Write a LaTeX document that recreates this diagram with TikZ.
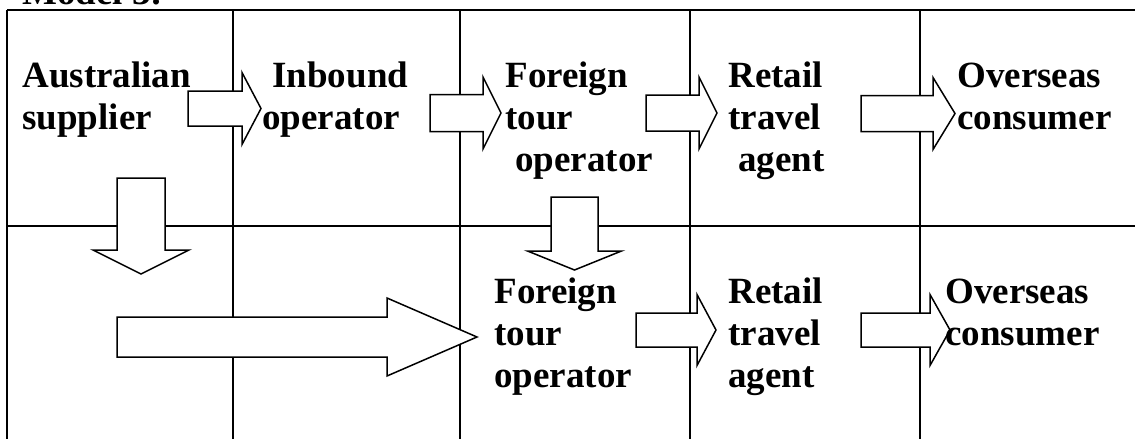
\documentclass[tikz,border=0pt]{standalone}
\usepackage{fontspec}
\setmainfont{Liberation Serif}
\usetikzlibrary{calc}

% horizontal block arrow: from, to, half shaft, half head, head length
\newcommand{\harrow}[5]{%
    \draw[barrow] let \p1=(#1), \p2=(#2) in
        (\x1,\y1+#3) -- (\x2-#5,\y1+#3) -- (\x2-#5,\y1+#4) -- (\x2,\y1)
        -- (\x2-#5,\y1-#4) -- (\x2-#5,\y1-#3) -- (\x1,\y1-#3) -- cycle;}
% downward block arrow: from, to, half shaft, half head, head length
\newcommand{\varrow}[5]{%
    \draw[barrow] let \p1=(#1), \p2=(#2) in
        (\x1-#3,\y1) -- (\x1-#3,\y2+#5) -- (\x1-#4,\y2+#5) -- (\x1,\y2)
        -- (\x1+#4,\y2+#5) -- (\x1+#3,\y2+#5) -- (\x1+#3,\y1) -- cycle;}

\begin{document}
\begin{tikzpicture}[
        x=0.5pt, y=-0.5pt,
        grid/.style={line width=1pt, draw=black},
        barrow/.style={draw=black, fill=white, line width=0.75pt, miter limit=20},
        lbl/.style={anchor=base west, align=left, inner sep=0pt,
                    font=\bfseries\fontsize{18.5}{21}\selectfont},
    ]
    \useasboundingbox (0,0) rectangle (1135,439);
    \clip (0,0) rectangle (1135,439);

    % Heading (cut off at the top)
    \node[lbl] (title) at (22,4) {Model 3:};

    % Table lines
    \draw[grid] (7,10) -- (1135,10);
    \draw[grid] (7,226) -- (1135,226);
    \draw[grid] (7,10) -- (7,439);
    \draw[grid] (233,10) -- (233,439);
    \draw[grid] (460,10) -- (460,439);
    \draw[grid] (690,10) -- (690,439);
    \draw[grid] (920,10) -- (920,439);

    % Arrow ends - top row
    \coordinate (a1s) at (188,108.5);  \coordinate (a1e) at (261,108.5);
    \coordinate (a2s) at (430,113);    \coordinate (a2e) at (501,113);
    \coordinate (a3s) at (646,113);    \coordinate (a3e) at (717,113);
    \coordinate (a4s) at (861,113.5);  \coordinate (a4e) at (955,113.5);
    % Arrow ends - going down
    \coordinate (d1s) at (141,178);    \coordinate (d1e) at (141,274);
    \coordinate (d2s) at (574.5,197);  \coordinate (d2e) at (574.5,270);
    % Arrow ends - bottom row
    \coordinate (b0s) at (117,337);    \coordinate (b0e) at (477,337);
    \coordinate (b1s) at (636,330);    \coordinate (b1e) at (716,330);
    \coordinate (b2s) at (861,330);    \coordinate (b2e) at (950,330);

    % Block arrows
    \harrow{a1s}{a1e}{8.75pt}{18pt}{9.5pt}
    \harrow{a2s}{a2e}{9.25pt}{18pt}{9pt}
    \harrow{a3s}{a3e}{9pt}{18pt}{9pt}
    \harrow{a4s}{a4e}{9pt}{18pt}{11pt}
    \varrow{d1s}{d1e}{12pt}{24pt}{12pt}
    \varrow{d2s}{d2e}{11.75pt}{23.5pt}{9.5pt}
    \harrow{b0s}{b0e}{10pt}{19.5pt}{45pt}
    \harrow{b1s}{b1e}{8.5pt}{17.75pt}{9.5pt}
    \harrow{b2s}{b2e}{8.5pt}{17.75pt}{10pt}

    % Labels - top row (anchored at the baseline of the last line)
    \node[lbl] (supplier) at (22,129)  {Australian\\supplier};
    \node[lbl] (inbound)  at (262,129) {\hspace*{5pt}Inbound\\operator};
    \node[lbl] (foreign1) at (505,171) {Foreign\\tour\\\hspace*{5pt}operator};
    \node[lbl] (retail1)  at (728,171) {Retail\\travel\\\hspace*{5pt}agent};
    \node[lbl] (overs1)   at (957,129) {Overseas\\consumer};

    % Labels - bottom row
    \node[lbl] (foreign2) at (494,387) {Foreign\\tour\\operator};
    \node[lbl] (retail2)  at (728,387) {Retail\\travel\\agent};
    \node[lbl] (overs2)   at (945,345) {Overseas\\consumer};
\end{tikzpicture}
\end{document}
